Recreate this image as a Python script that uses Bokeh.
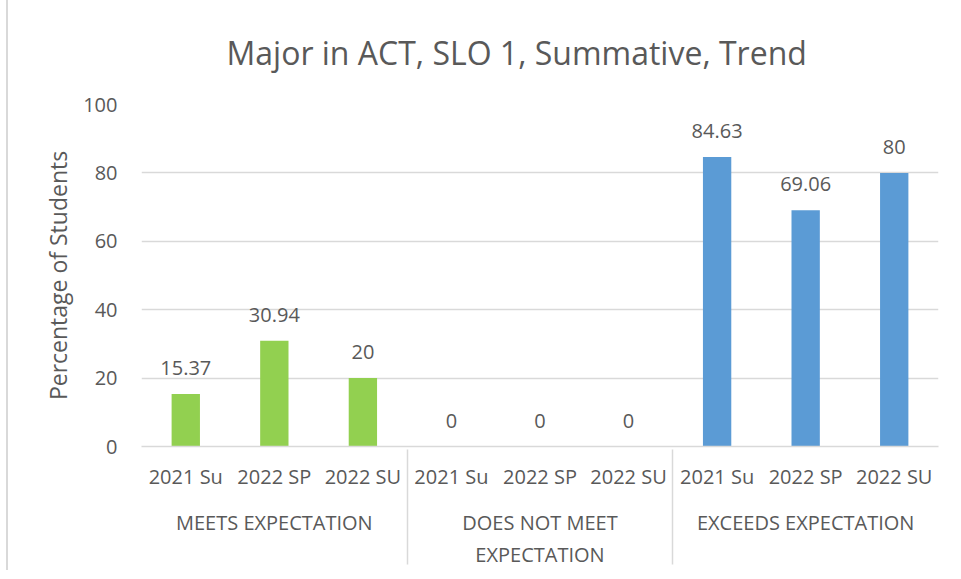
from bokeh.plotting import figure
from bokeh.models import FactorRange, Range1d, FixedTicker, ColumnDataSource, LabelSet
from bokeh.core.properties import value
from bokeh.embed import file_html
from bokeh.resources import INLINE

title = "Major in ACT, SLO 1, Summative, Trend"
y_label = "Percentage of Students"
groups = ["MEETS EXPECTATION", "DOES NOT MEET\nEXPECTATION", "EXCEEDS EXPECTATION"]
terms = ["2021 Su", "2022 SP", "2022 SU"]
meets = [15.37, 30.94, 20]
does_not_meet = [0, 0, 0]
exceeds = [84.63, 69.06, 80]
group_colors = ["#92D050", "#ED7D31", "#5B9BD5"]
y_ticks = [0, 20, 40, 60, 80, 100]

series = [meets, does_not_meet, exceeds]
factors, values, colors, labels = [], [], [], []
for g, vals, c in zip(groups, series, group_colors):
    for t, v in zip(terms, vals):
        factors.append((g, t))
        values.append(v)
        colors.append(c)
        labels.append(f"{v:g}")

src = ColumnDataSource(dict(x=factors, top=values, color=colors, label=labels))

FONT = "Open Sans"
TXT = "#595959"
GRID = "#d9d9d9"

p = figure(
    x_range=FactorRange(*factors, factor_padding=0, group_padding=0, range_padding=0),
    y_range=Range1d(0, 100),
    frame_width=797, frame_height=342,
    min_border_left=133, min_border_right=15, min_border_top=97, min_border_bottom=124,
    output_backend="svg", toolbar_location=None,
)
p.styles = {"border-top": "2px solid #d9d9d9", "border-left": "2px solid #d9d9d9",
            "margin-top": "-5px", "margin-left": "6px"}
p.outline_line_color = None
p.background_fill_color = "white"
p.border_fill_color = "white"

p.vbar(x="x", top="top", width=0.32, color="color", line_color=None, source=src)

p.add_layout(LabelSet(x="x", y="top", text="label", source=src, text_align="center",
                      text_baseline="middle", y_offset=26, text_font=value(FONT),
                      text_font_size=value("20px"), text_color=TXT))

p.title.text = title
p.title.align = "left"
p.title.offset = 85
p.title.text_font = FONT
p.title.text_font_size = "32px"
p.title.text_font_style = "normal"
p.title.text_color = TXT
p.title.standoff = 62

p.xgrid.visible = False
p.ygrid.grid_line_color = GRID
p.ygrid.grid_line_width = 1.5
p.yaxis.ticker = FixedTicker(ticks=y_ticks)
p.yaxis.axis_line_color = None
p.yaxis.major_tick_line_color = None
p.yaxis.minor_tick_line_color = None
p.yaxis.major_tick_out = 0
p.yaxis.major_label_standoff = 24
p.yaxis.major_label_text_font = FONT
p.yaxis.major_label_text_font_size = "20px"
p.yaxis.major_label_text_color = TXT
p.yaxis.axis_label = y_label
p.yaxis.axis_label_text_font = FONT
p.yaxis.axis_label_text_font_size = "23px"
p.yaxis.axis_label_text_font_style = "normal"
p.yaxis.axis_label_text_color = TXT
p.yaxis.axis_label_standoff = 6

xa = p.xaxis[0]
xa.axis_line_color = GRID
xa.axis_line_width = 1.5
xa.major_tick_line_color = None
xa.minor_tick_line_color = None
xa.major_tick_out = 0
xa.major_label_standoff = 16
xa.major_label_text_font = FONT
xa.major_label_text_font_size = "20px"
xa.major_label_text_color = TXT
xa.group_text_font = FONT
xa.group_text_font_size = "20px"
xa.group_text_color = TXT
xa.group_text_font_style = "normal"
xa.separator_line_color = GRID
xa.separator_line_width = 1.5

open("out.html", "w").write(file_html(p, INLINE))
